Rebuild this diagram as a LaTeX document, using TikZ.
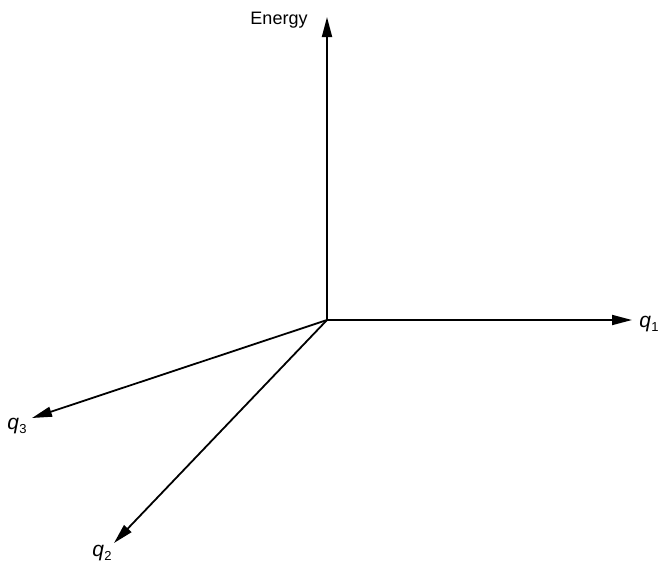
\documentclass[tikz,border=0pt]{standalone}
\usepackage{fontspec}
\setmainfont{Liberation Sans}
\usetikzlibrary{arrows.meta}
\newcommand{\qax}[1]{\textit{q}\kern0.5pt\raisebox{-0.4ex}{\fontsize{13}{15}\selectfont #1}}
\begin{document}
\begin{tikzpicture}[x=1pt,y=-1pt,
  axis/.style={line width=1.8pt,-{Triangle[length=20pt,width=10pt]}},
  lbl/.style={font=\fontsize{18}{21}\selectfont,inner sep=0pt},
  qlbl/.style={font=\fontsize{21}{24}\selectfont,inner sep=0pt}]
\useasboundingbox (0,0) rectangle (658,566);
\coordinate (o) at (327,320);
\coordinate (e) at (327,17);
\coordinate (x1) at (632,320);
\coordinate (x3) at (32,418);
\coordinate (x2) at (114,543);
\draw[axis] (o) -- (e);
\draw[axis] (o) -- (x1);
\draw[axis] (o) -- (x3);
\draw[axis] (o) -- (x2);
\node[lbl] (le) at (279,20) {Energy};
\node[qlbl] (l1) at (649,324) {\qax{1}};
\node[qlbl] (l3) at (17,426) {\qax{3}};
\node[qlbl] (l2) at (102,553) {\qax{2}};
\end{tikzpicture}
\end{document}
